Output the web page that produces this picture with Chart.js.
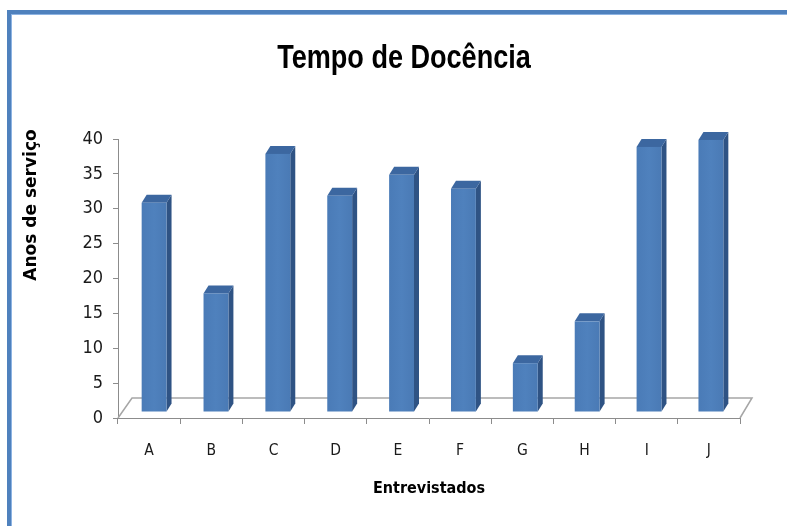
<!DOCTYPE html>
<html>
<head>
<meta charset="utf-8">
<script src="https://cdn.jsdelivr.net/npm/chart.js@4"></script>
<style>
html,body{margin:0;padding:0;background:#fff;}
#wrap{position:relative;width:787px;height:526px;overflow:hidden;}
</style>
</head>
<body>
<div id="wrap"><canvas id="c" width="787" height="526"></canvas></div>
<script>
// ---- data ----
const categories = ['A','B','C','D','E','F','G','H','I','J'];
const anosDeServico = [30, 17, 37, 31, 34, 32, 7, 13, 38, 39];
const yTicks = [0, 5, 10, 15, 20, 25, 30, 35, 40];
const chartTitle = 'Tempo de Docência';
const xAxisTitle = 'Entrevistados';
const yAxisTitle = 'Anos de serviço';

// ---- styles ----
const NARROW = "'Liberation Sans Narrow', 'DejaVu Sans Condensed', 'Liberation Sans', sans-serif";
const AXIS_GRAY = '#8c8c8c';
const FRONT = '#4f81bd', TOP = '#3c67a0', SIDE = '#2f5384';
const TITLE_CX = 404, TITLE_SQUEEZE = 0.82;

const frame3d = {
  id: 'frame3d',
  beforeDraw(chart) {
    const ctx = chart.ctx;
    ctx.save();
    ctx.fillStyle = '#ffffff';
    ctx.fillRect(0, 0, chart.width, chart.height);
    ctx.fillStyle = '#4f81bd';
    ctx.fillRect(7, 10, chart.width, 4);
    ctx.fillRect(7, 10, 4, chart.height);
    ctx.fillStyle = '#8db3e2';
    ctx.fillRect(11, 14, chart.width, 1);
    ctx.fillRect(11, 14, 1, chart.height);
    ctx.restore();
  },
  afterLayout(chart) {
    const tb = chart.titleBlock;
    if (!tb) return;
    const w = tb.right - tb.left;
    tb.left = TITLE_CX - w / 2; tb.right = TITLE_CX + w / 2;
    if (!tb._squeezed) {
      const orig = tb.draw;
      tb.draw = function (area) {
        const ctx = this.ctx;
        ctx.save();
        ctx.translate(TITLE_CX, 0);
        ctx.scale(TITLE_SQUEEZE, 1);
        ctx.translate(-TITLE_CX, 0);
        orig.call(this, area);
        ctx.restore();
      };
      tb._squeezed = true;
    }
  },
  beforeDatasetsDraw(chart) {
    const {ctx, chartArea: a} = chart;
    ctx.save();
    ctx.strokeStyle = '#a6a6a6';
    ctx.lineWidth = 1.5;
    ctx.beginPath();
    ctx.moveTo(a.left, a.bottom);
    ctx.lineTo(a.left + 14, a.bottom - 20);
    ctx.lineTo(a.right + 12, a.bottom - 20);
    ctx.lineTo(a.right, a.bottom);
    ctx.stroke();
    ctx.restore();
  },
  afterDatasetsDraw(chart) {
    const ctx = chart.ctx;
    const meta = chart.getDatasetMeta(0);
    const n = meta.data.length;
    ctx.save();
    meta.data.forEach((el, i) => {
      const p = el.getProps(['x', 'y', 'base', 'width'], true);
      const ox = 5 - 3 * i / (n - 1), oy = -6, dx = 5, dy = -8;
      const x1 = p.x - p.width / 2 + ox, x2 = x1 + p.width;
      const yt = p.y + oy, yb = p.base + oy;
      ctx.fillStyle = SIDE;
      ctx.beginPath();
      ctx.moveTo(x2, yt); ctx.lineTo(x2 + dx, yt + dy); ctx.lineTo(x2 + dx, yb + dy); ctx.lineTo(x2, yb);
      ctx.closePath(); ctx.fill();
      ctx.fillStyle = TOP;
      ctx.beginPath();
      ctx.moveTo(x1, yt); ctx.lineTo(x1 + dx, yt + dy); ctx.lineTo(x2 + dx, yt + dy); ctx.lineTo(x2, yt);
      ctx.closePath(); ctx.fill();
      const g = ctx.createLinearGradient(x1, 0, x2, 0);
      g.addColorStop(0, '#4a7bb7'); g.addColorStop(0.5, FRONT); g.addColorStop(1, '#4a7ab5');
      ctx.fillStyle = g;
      ctx.fillRect(x1, yt, p.width, yb - yt);
    });
    ctx.restore();
  },
  afterDraw(chart) {
    const ctx = chart.ctx;
    ctx.save();
    ctx.translate(32, 205);
    ctx.rotate(-Math.PI / 2);
    ctx.font = "bold 17px 'DejaVu Sans', sans-serif";
    ctx.fillStyle = '#000';
    ctx.textAlign = 'center';
    ctx.textBaseline = 'middle';
    ctx.fillText(yAxisTitle, 0, 0);
    ctx.restore();
  }
};

new Chart(document.getElementById('c'), {
  type: 'bar',
  data: {
    labels: categories,
    datasets: [{
      label: yAxisTitle,
      data: anosDeServico,
      backgroundColor: 'rgba(0,0,0,0)',
      borderWidth: 0,
      categoryPercentage: 1,
      barPercentage: 0.4
    }]
  },
  options: {
    responsive: false,
    animation: false,
    devicePixelRatio: 1,
    layout: { padding: { left: 0, right: 47, top: 0, bottom: 0 } },
    plugins: {
      legend: { display: false },
      tooltip: { enabled: false },
      title: {
        display: true,
        text: chartTitle,
        color: '#000',
        font: { family: "'Liberation Sans', Arial, sans-serif", size: 33, weight: 'bold', lineHeight: 1.2 },
        padding: { top: 39, bottom: 60.4 }
      }
    },
    scales: {
      x: {
        afterFit(s) { s.height = 108; },
        grid: { offset: true, drawOnChartArea: false, drawTicks: true, tickLength: 6, color: AXIS_GRAY, lineWidth: 1 },
        border: { display: true, color: AXIS_GRAY, width: 1 },
        ticks: { color: '#1a1a1a', padding: 18, font: { family: NARROW, size: 15.5 } },
        title: { display: true, text: xAxisTitle, color: '#000', font: { family: NARROW, size: 16, weight: 'bold', lineHeight: 1.2 }, padding: { top: 0, bottom: 28 } }
      },
      y: {
        min: 0, max: 40,
        afterBuildTicks(s) { s.ticks = yTicks.map(v => ({ value: v })); },
        afterFit(s) { s.width = 118; },
        grid: { drawOnChartArea: false, drawTicks: true, tickLength: 5, color: AXIS_GRAY, lineWidth: 1 },
        border: { display: true, color: AXIS_GRAY, width: 1 },
        ticks: { color: '#1a1a1a', padding: 10, font: { family: NARROW, size: 18 } }
      }
    }
  },
  plugins: [frame3d]
});
</script>
</body>
</html>
